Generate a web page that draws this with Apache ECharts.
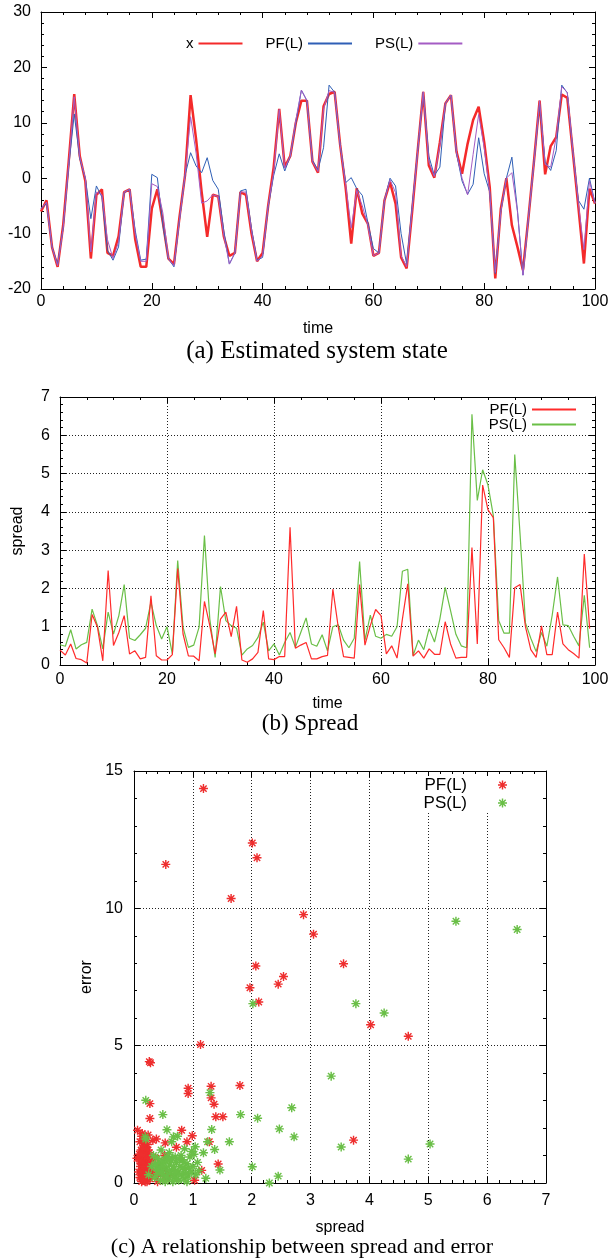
<!DOCTYPE html>
<html><head><meta charset="utf-8">
<script src="https://cdn.jsdelivr.net/npm/echarts@6/dist/echarts.min.js"></script>
<style>html,body{margin:0;padding:0;background:#fff}#c{width:611px;height:1259px}</style>
</head><body><div id="c"></div>
<script>
// ---------- data: panel (a) estimated system state, time 0..100 ----------
const stateX = [-6,-4,-12.5,-16,-8.5,3,15.2,4,-0.5,-14.5,-3,-2,-13.5,-14,-10.5,-2.5,-2,-11,-16,-16,
  -5.5,-2,-8,-14.5,-15.5,-7,0.5,15,7,-2.5,-10.6,-3,-3.3,-10.5,-14,-13.5,-2.5,-3,-10,-15,
  -13.5,-5,2,12.5,2,4,10,14,14,3,1,13,15.2,15.6,6,-1.8,-11.8,-1.8,-6.4,-8.2,
  -14,-13.5,-4,-0.7,-4.6,-14.3,-16.3,-6,5,15.6,2.3,0.1,6.5,13.5,15,4.8,0.8,6.2,10.5,12.9,
  6.5,-1.6,-18.1,-5.5,0,-8.5,-12.4,-16.6,-7,3.2,14,0.7,5.8,7.4,15.1,14.5,4.7,-5.2,-15.4,-1.9,-4.6];
const statePF = [-5.5,-4.5,-12.5,-15.5,-9,2,11.6,3.5,0,-7.3,-1.4,-3.4,-13,-14.8,-12.4,-2.6,-2,-9.4,-14.8,-14.6,
  0.7,0.1,-8.5,-14.5,-16,-7.5,0.5,4.6,2.2,1,3.7,-0.4,-2,-9.5,-15.5,-13.5,-2.3,-2,-9.1,-14.8,
  -14.3,-5.2,0.5,4.4,1.3,4,10,15.9,14,3.2,1.5,5.5,16.8,15.5,6,-0.8,0.1,-1.9,-3.1,-8,
  -12.7,-13.5,-4,0,-1.4,-10,-15.5,-5,5,15.5,4,0.5,2,13.5,15,4.5,-0.5,-2.9,-1.1,7.3,
  0.8,-2.5,-17.2,-6,0,3.8,-5.8,-17.5,-7,3,13.4,2.9,1.4,5,16.8,15.4,5,-4,-5.6,0,-4.5];
const statePS = [-5.5,-4.3,-12.5,-15.8,-9,2.5,14.7,3.8,0,-13.3,-2.5,-3,-11.1,-14.5,-11.5,-2.5,-2,-10,-15,-15,
  -1,-1.5,-6.3,-14.5,-15.8,-7.5,0.5,11.1,4.5,-4.5,-4.1,-3,-3.3,-10.3,-15.5,-13.5,-2.5,-2.5,-9.5,-15,
  -14,-5,1,12.4,1.8,4,10.5,15.9,14,3,1.2,12.5,15.8,15.5,6,-1.2,-9,-2.2,-5,-8.5,
  -14,-13.5,-4,-0.3,-2.6,-14,-16,-5.5,5,15.6,3,0.3,5.9,13.5,15,4.6,0,-3,4.3,11.5,
  5.5,-2.5,-17,-6,0,1,-6,-17.5,-7,3,14,2.5,2,7.4,16.5,15.5,5,-4.5,-12.9,-0.5,-4.5];

// ---------- data: panel (b) spread, time 0..99 ----------
const spreadPF = [0.39,0.26,0.55,0.17,0.14,0.05,1.32,0.99,0.11,2.47,0.51,0.85,1.29,0.29,0.37,0.16,0.2,1.81,0.24,0.13,
  0.13,0.27,2.52,0.81,0.24,0.23,0.11,1.66,1.03,0.29,1.2,1.38,0.74,1.53,0.13,0.07,0.16,0.33,1.42,0.16,
  0.14,0.22,0.22,3.6,0.44,0.52,0.59,0.16,0.16,0.22,0.25,1.98,1.0,0.22,0.2,0.18,2.1,0.52,1.03,1.45,
  1.29,0.29,0.5,0.18,1.2,2.12,0.23,0.37,0.18,0.42,0.28,0.28,1.13,0.55,0.18,0.2,0.2,3.07,0.55,4.7,
  4.05,3.85,0.66,0.45,0.2,2.02,2.1,1.0,0.4,0.2,1.02,0.27,0.27,1.38,0.55,0.4,0.3,0.18,2.9,0.95];
const spreadPS = [0.53,0.49,0.92,0.42,0.53,0.59,1.46,1.03,0.42,1.38,0.81,1.29,2.1,0.7,0.64,0.79,0.96,1.64,1.03,0.68,
  1.0,0.29,2.73,0.99,0.46,0.52,0.99,3.38,1.2,0.2,2.05,1.16,1.03,0.96,0.26,0.42,0.51,0.72,1.12,0.37,
  0.55,0.26,0.59,0.85,0.46,0.85,1.23,0.55,0.49,0.79,0.37,1.0,1.05,0.65,0.45,0.7,2.7,0.64,1.3,0.75,
  0.7,0.8,0.75,1.0,2.45,2.5,0.25,0.65,0.4,0.95,0.6,1.2,2.03,1.42,0.8,0.5,0.45,6.55,4.3,5.1,
  4.7,3.9,1.16,0.83,0.83,5.5,3.4,1.1,0.7,0.35,0.85,0.49,1.3,2.3,1.05,1.03,0.75,0.5,1.82,0.45];

// ---------- data: panel (c) spread vs error ----------
const scatterPF = [[1.18,14.36],[0.54,11.6],[2.01,12.38],[2.09,11.84],[1.65,10.36],[2.88,9.77],[3.05,9.06],[2.07,7.9],
  [3.56,7.98],[2.54,7.52],[2.45,7.24],[1.97,7.11],[2.12,6.59],[4.02,5.76],[4.66,5.34],[1.13,5.04],[0.28,4.38],[0.26,4.42],
  [1.80,3.55],[1.31,3.52],[0.92,3.45],[0.92,3.26],[1.31,3.1],[1.36,2.87],[0.27,2.89],[1.39,2.41],[1.51,2.41],[0.27,2.35],
  [3.73,1.56],[0.81,1.92],[0.06,1.92],[0.99,1.72],[0.38,1.6],[0.9,1.5],[0.72,1.3],[0.53,1.46],[1.43,0.69],[1.15,0.46],
  [1.03,0.1],[1.28,1.5],
  [0.05,0.9],[0.08,0.4],[0.1,1.5],[0.1,0.2],[0.12,1.2],[0.12,0.7],[0.13,0.05],[0.14,1.8],[0.14,0.95],[0.15,0.5],
  [0.15,0.3],[0.16,1.1],[0.16,0.1],[0.17,0.75],[0.18,1.6],[0.18,0.4],[0.19,0.9],[0.2,1.3],[0.2,0.2],[0.2,0.6],
  [0.21,1.0],[0.22,0.05],[0.22,0.8],[0.23,1.4],[0.24,0.3],[0.25,0.55],[0.26,1.1],[0.27,0.15],[0.28,0.7],[0.3,0.4],
  [0.32,1.55],[0.35,0.25],[0.37,0.9],[0.4,0.05],[0.42,0.6],[0.45,0.3],[0.5,0.5],[0.52,1.0],[0.55,0.15],[0.6,0.35],
  [0.11,0.6],[0.13,1.7],[0.17,0.25],[0.09,1.05],[0.24,1.75],[0.19,0.05],[0.14,0.35],[0.21,0.45],[0.16,1.45],[0.3,0.85],
  [0.12,0.15],[0.13,0.45],[0.14,0.65],[0.15,0.85],[0.16,0.6],[0.17,1.3],[0.18,0.15],[0.19,0.55],[0.2,0.95],[0.21,0.3],
  [0.22,1.15],[0.23,0.6],[0.18,1.0],[0.15,1.25],[0.2,1.7],[0.25,0.9],[0.12,1.05],[0.26,0.4],[0.1,0.8],[0.24,1.2]];
const scatterPS = [[5.47,9.53],[6.51,9.23],[2.02,6.53],[3.77,6.53],[4.25,6.19],[3.35,3.89],[2.68,2.74],[1.81,2.49],
  [2.10,2.36],[0.49,2.49],[0.2,3.01],[1.29,3.29],[1.32,1.95],[2.47,1.97],[2.72,1.68],[1.62,1.5],[3.52,1.31],[5.03,1.42],
  [4.66,0.87],[2.01,0.59],[2.45,0.25],[2.3,0.0],[1.46,0.47],[0.56,1.94],[1.37,1.22],[1.25,1.5],[1.04,1.32],[1.18,1.1],
  [1.22,0.17],
  [0.3,0.6],[0.35,0.2],[0.4,0.9],[0.42,0.45],[0.45,0.1],[0.48,0.7],[0.5,0.3],[0.52,0.85],[0.55,0.5],[0.58,0.15],
  [0.6,0.65],[0.62,0.35],[0.65,0.9],[0.66,0.05],[0.68,0.5],[0.7,0.25],[0.72,0.75],[0.75,0.4],[0.76,0.1],[0.78,0.6],
  [0.8,0.3],[0.82,0.85],[0.85,0.15],[0.87,0.5],[0.9,0.7],[0.92,0.25],[0.95,0.95],[0.97,0.4],[1.0,0.6],[1.02,1.05],
  [1.05,0.3],[1.08,0.75],[1.1,0.45],[0.2,1.6],[0.25,0.3],[0.33,1.0],[0.38,0.55],[0.46,1.2],[0.53,0.05],[0.6,1.1],
  [0.64,1.5],[0.7,0.95],[0.74,1.7],[0.8,1.0],[0.86,1.25],[0.9,0.05],[0.98,1.15],[0.44,0.75],[0.56,0.95],[0.68,0.2],
  [0.4,0.35],[0.45,0.55],[0.5,0.75],[0.55,0.25],[0.6,0.45],[0.63,0.8],[0.67,0.6],[0.7,0.4],[0.73,0.15],[0.77,0.85],
  [0.83,0.55],[0.88,0.35],[0.93,0.55],[0.5,0.6],[0.58,0.85],[0.19,1.68],[0.67,1.68],[0.36,0.7],[0.47,0.4],[0.85,0.75]];

const captions = ['(a) Estimated system state', '(b) Spread', '(c) A relationship between spread and error'];

// ---------- chart ----------
const SANS = 'Liberation Sans, Arial, Helvetica, sans-serif';
const SERIF = 'Liberation Serif, Times New Roman, serif';
const STAR = 'path://M-1,-0.16L1,-0.16L1,0.16L-1,0.16Z M-0.16,-1L0.16,-1L0.16,1L-0.16,1Z M-0.6,-0.82L0.82,0.6L0.6,0.82L-0.82,-0.6Z M0.82,-0.6L-0.6,0.82L-0.82,0.6L0.6,-0.82Z';

function axisPair(kind, grid, min, max, interval, minorSplit, grid_lines, labelMargin, name, nameGap) {
  const common = {
    type: 'value', gridIndex: grid, min: min, max: max, interval: interval,
    axisLine: { show: true, onZero: false, lineStyle: { color: '#000', width: 1 } },
    axisTick: { show: true, inside: true, length: 6, lineStyle: { color: '#000', width: 1 } },
    minorTick: { show: true, splitNumber: minorSplit, length: 3, lineStyle: { color: '#000', width: 1 } },
    minorSplitLine: { show: false }
  };
  const main = Object.assign({}, common, {
    position: kind === 'x' ? 'bottom' : 'left',
    axisLabel: { show: true, color: '#000', fontFamily: SANS, fontSize: 16, margin: labelMargin,
                 showMinLabel: true, showMaxLabel: true, hideOverlap: false },
    splitLine: { show: grid_lines, lineStyle: { color: '#222', width: 1, type: [1, 2] } }
  });
  if (name) {
    Object.assign(main, { name: name, nameLocation: 'middle', nameGap: nameGap,
      nameTextStyle: { color: '#000', fontFamily: SANS, fontSize: 16 } });
    if (kind === 'y') main.nameRotate = 90;
  }
  const mirror = Object.assign({}, common, {
    position: kind === 'x' ? 'top' : 'right',
    axisLabel: { show: false }, splitLine: { show: false }
  });
  return [main, mirror];
}

const xAxes = [].concat(
  axisPair('x', 0, 0, 100, 20, 5, false, 5, 'time', 32),
  axisPair('x', 1, 0, 100, 20, 4, true, 7, 'time', 31),
  axisPair('x', 2, 0, 7, 1, 5, true, 10, 'spread', 37)
);
const yAxes = [].concat(
  axisPair('y', 0, -20, 30, 10, 5, false, 10, null, 0),
  axisPair('y', 1, 0, 7, 1, 5, true, 10, 'spread', 34),
  axisPair('y', 2, 0, 15, 5, 5, true, 11, 'error', 33)
);

const pairs = arr => arr.map((v, i) => [i, v]);
function lineSeries(name, data, xi, color, width, z) {
  return { name: name, type: 'line', xAxisIndex: xi, yAxisIndex: xi, data: data,
    symbol: 'none', showSymbol: false, z: z,
    lineStyle: { color: color, width: width }, itemStyle: { color: color },
    emphasis: { disabled: true } };
}
function scatterSeries(name, data, color, z) {
  return { name: name, type: 'scatter', xAxisIndex: 4, yAxisIndex: 4, data: data,
    symbol: STAR, symbolSize: 9, z: z, itemStyle: { color: color, opacity: 1 },
    emphasis: { disabled: true } };
}

const RED = '#f42a2a', BLUE = '#2f5fb6', PURPLE = '#a45cc4', GREEN = '#6abf47';
const stripName = n => n.split('_')[0];
const noDot = { color: 'rgba(0,0,0,0)', borderColor: 'rgba(0,0,0,0)', borderWidth: 0 };

const option = {
  animation: false,
  backgroundColor: '#fff',
  grid: [
    { left: 41, top: 12, width: 554, height: 277, containLabel: false, outerBoundsMode: 'none' },
    { left: 60, top: 397, width: 535, height: 268, containLabel: false, outerBoundsMode: 'none' },
    { left: 134, top: 771, width: 412, height: 412, containLabel: false, outerBoundsMode: 'none' }
  ],
  xAxis: xAxes,
  yAxis: yAxes,
  legend: [
    { data: ['x', 'PF(L)_a', 'PS(L)_a'], left: 186, top: 36, orient: 'horizontal', align: 'right',
      itemWidth: 44, itemHeight: 14, itemGap: 22, padding: 0, formatter: stripName, selectedMode: false,
      itemStyle: noDot,
      textStyle: { color: '#000', fontFamily: SANS, fontSize: 15 } },
    { data: ['PF(L)_b', 'PS(L)_b'], right: 34, top: 400, orient: 'vertical', align: 'right',
      itemWidth: 44, itemHeight: 12, itemGap: 0, padding: [2, 0, 3, 4], backgroundColor: '#fff',
      formatter: stripName, selectedMode: false, itemStyle: noDot,
      textStyle: { color: '#000', fontFamily: SANS, fontSize: 15, lineHeight: 15 } },
    { data: ['PF(L)_c', 'PS(L)_c'], right: 101, top: 776, orient: 'vertical', align: 'right',
      itemWidth: 9, itemHeight: 9, itemGap: 0, padding: [0, 3, 0, 6], backgroundColor: '#fff',
      formatter: n => '{t|' + stripName(n) + '}', selectedMode: false,
      textStyle: { color: '#000', fontFamily: SANS, fontSize: 17, lineHeight: 18,
        rich: { t: { fontFamily: SANS, fontSize: 17, lineHeight: 18, padding: [0, 26, 0, 0] } } } }
  ],
  series: [
    lineSeries('x', pairs(stateX), 0, RED, 2.5, 2),
    lineSeries('PF(L)_a', pairs(statePF), 0, BLUE, 1, 3),
    lineSeries('PS(L)_a', pairs(statePS), 0, PURPLE, 1, 4),
    lineSeries('PF(L)_b', pairs(spreadPF), 2, '#ff2b2b', 1.2, 3),
    lineSeries('PS(L)_b', pairs(spreadPS), 2, GREEN, 1.2, 2),
    scatterSeries('PF(L)_c', scatterPF, '#ee2e2e', 3),
    scatterSeries('PS(L)_c', scatterPS, GREEN, 4)
  ],
  graphic: [
    { type: 'text', x: 317, y: 351, style: { text: captions[0], fontFamily: SERIF, fontSize: 25, fill: '#000', align: 'center', verticalAlign: 'middle' } },
    { type: 'text', x: 310, y: 724, style: { text: captions[1], fontFamily: SERIF, fontSize: 23, fill: '#000', align: 'center', verticalAlign: 'middle' } },
    { type: 'text', x: 302, y: 1247, style: { text: captions[2], fontFamily: SERIF, fontSize: 22, fill: '#000', align: 'center', verticalAlign: 'middle' } }
  ]
};

const chart = echarts.init(document.getElementById('c'), null, { renderer: 'canvas' });
chart.setOption(option);
</script>
</body></html>
